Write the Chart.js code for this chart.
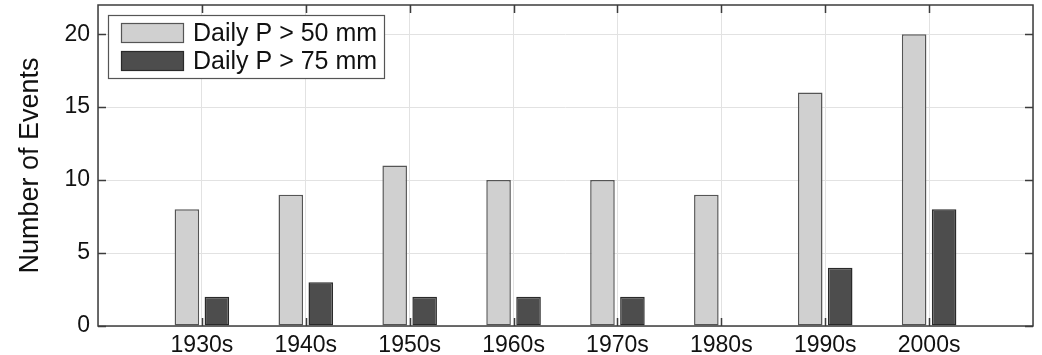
<!DOCTYPE html>
<html lang="en">
<head>
  <meta charset="UTF-8" />
  <title>Number of Events per Decade</title>
  <script src="https://cdn.jsdelivr.net/npm/chart.js"></script>
  <style>
    html, body { margin: 0; padding: 0; background: #fff; }
    #wrap { width: 1042px; height: 355px; position: relative; }
  </style>
</head>
<body>
  <div id="wrap"><canvas id="grafico"></canvas></div>

  <script>
    // --- data ---
    const decadas = ["1930s", "1940s", "1950s", "1960s", "1970s", "1980s", "1990s", "2000s"];
    const eventos50 = [8, 9, 11, 10, 10, 9, 16, 20];
    const eventos75 = [2, 3, 2, 2, 2, 0, 4, 8];
    const ticksY = [0, 5, 10, 15, 20];

    const FONTE = "'Liberation Sans', Arial, sans-serif";

    // empty slot at each end so the bars sit at 1..8 on a 0..9 axis
    const labels = [""].concat(decadas, [""]);
    const pad = arr => [null].concat(arr, [null]);

    // box around the plot, inner ticks and the legend
    const molduraPlugin = {
      id: "moldura",
      afterDraw(chart) {
        const ctx = chart.ctx;
        const a = chart.chartArea;
        const sx = chart.scales.x, sy = chart.scales.y;
        ctx.save();
        ctx.strokeStyle = "#3c3c3c";
        ctx.lineWidth = 1.5;
        ctx.beginPath();
        // inner ticks
        ticksY.forEach(v => {
          const y = Math.round(sy.getPixelForValue(v)) + 0.5;
          ctx.moveTo(a.left, y); ctx.lineTo(a.left + 8, y);
          ctx.moveTo(a.right, y); ctx.lineTo(a.right - 8, y);
        });
        decadas.forEach((d, i) => {
          const x = Math.round(sx.getPixelForValue(i + 1)) + 0.5;
          ctx.moveTo(x, a.bottom); ctx.lineTo(x, a.bottom - 8);
          ctx.moveTo(x, a.top); ctx.lineTo(x, a.top + 8);
        });
        ctx.stroke();
        ctx.strokeRect(a.left, a.top, a.right - a.left, a.bottom - a.top);

        // legend
        const lx = a.left + 10, ly = a.top + 10, lw = 276, lh = 63;
        ctx.fillStyle = "#fff";
        ctx.fillRect(lx, ly, lw, lh);
        ctx.lineWidth = 1.2;
        ctx.strokeStyle = "#555";
        ctx.strokeRect(lx + 0.5, ly + 0.5, lw, lh);
        ctx.font = "25px " + FONTE;
        ctx.textBaseline = "middle";
        chart.data.datasets.forEach((ds, i) => {
          const cy = ly + 18 + i * 28;
          ctx.fillStyle = ds.backgroundColor;
          ctx.fillRect(lx + 13, cy - 10, 63, 20);
          ctx.strokeStyle = ds.borderColor;
          ctx.lineWidth = 1.2;
          ctx.strokeRect(lx + 13.5, cy - 9.5, 62, 19);
          ctx.fillStyle = "#111";
          ctx.fillText(ds.label, lx + 85, cy + 1);
        });
        ctx.restore();
      }
    };

    const ctxGrafico = document.getElementById("grafico").getContext("2d");
    new Chart(ctxGrafico, {
      type: "bar",
      data: {
        labels: labels,
        datasets: [
          {
            label: "Daily P > 50 mm",
            data: pad(eventos50),
            backgroundColor: "#d0d0d0",
            borderColor: "#555",
            borderWidth: 1.5,
            borderSkipped: false
          },
          {
            label: "Daily P > 75 mm",
            data: pad(eventos75),
            backgroundColor: "#4d4d4d",
            borderColor: "#2a2a2a",
            borderWidth: 1.5,
            borderSkipped: false
          }
        ]
      },
      options: {
        responsive: true,
        maintainAspectRatio: false,
        animation: false,
        layout: { padding: { top: 5, right: 9, left: 0, bottom: 0 } },
        categoryPercentage: 0.577,
        barPercentage: 0.82,
        plugins: {
          legend: { display: false },
          tooltip: { enabled: false }
        },
        scales: {
          x: {
            offset: false,
            grid: { offset: false, color: "#e2e2e2", lineWidth: 1, drawTicks: false },
            border: { display: false },
            ticks: {
              autoSkip: false,
              maxRotation: 0,
              padding: 6,
              color: "#111",
              font: { family: FONTE, size: 23 }
            },
            afterFit(scale) { scale.height = 29; }
          },
          y: {
            min: 0,
            max: 22,
            grid: { color: "#e2e2e2", lineWidth: 1, drawTicks: false },
            border: { display: false },
            ticks: {
              padding: 8,
              color: "#111",
              font: { family: FONTE, size: 23 }
            },
            afterBuildTicks(scale) {
              scale.ticks = ticksY.map(v => ({ value: v }));
            },
            title: {
              display: true,
              text: "Number of Events",
              color: "#111",
              font: { family: FONTE, size: 27 },
              padding: { top: 14, bottom: 0 }
            },
            afterFit(scale) {
              scale.width = 98;
              scale.paddingTop = 0;
              scale.paddingBottom = 0;
            }
          }
        }
      },
      plugins: [molduraPlugin]
    });
  </script>
</body>
</html>
